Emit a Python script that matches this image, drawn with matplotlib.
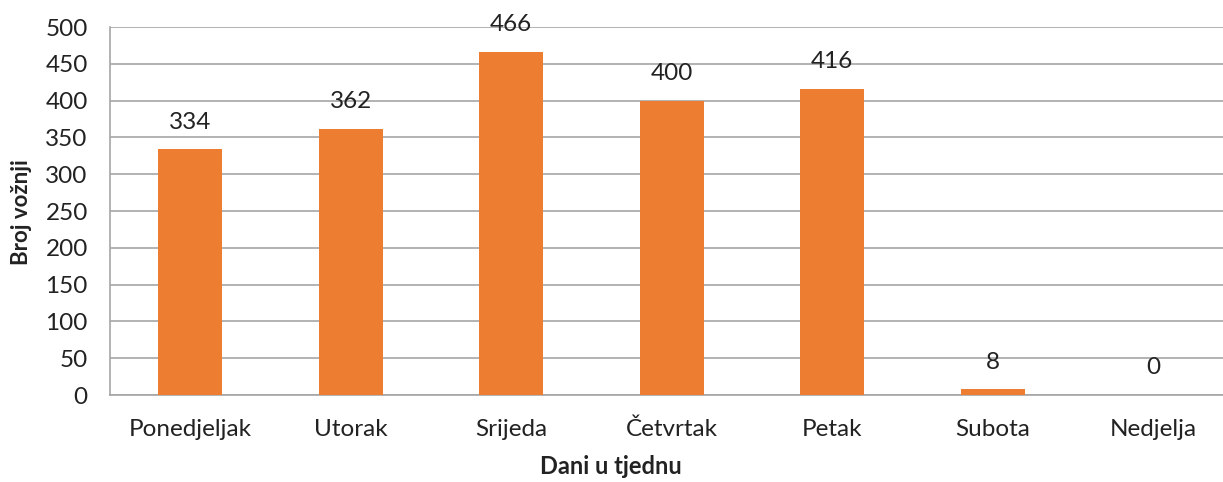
import matplotlib
matplotlib.use("Agg")
import matplotlib.pyplot as plt

days = ["Ponedjeljak", "Utorak", "Srijeda", "Četvrtak", "Petak", "Subota", "Nedjelja"]
rides = [334, 362, 466, 400, 416, 8, 0]
y_ticks = list(range(0, 501, 50))

plt.rcParams["font.family"] = ["Lato", "DejaVu Sans"]

fig = plt.figure(figsize=(12.23, 4.82), dpi=100)
ax = fig.add_axes([110 / 1223, 1 - 395 / 482, 1123.5 / 1223, 368 / 482])

x = range(len(days))
bars = ax.bar(x, rides, width=0.4, color="#ED7D31", zorder=3)
for b, v in zip(bars, rides):
    ax.annotate(str(v), (b.get_x() + b.get_width() / 2, v), xytext=(0, 19.5),
                textcoords="offset points", ha="center", va="center",
                fontsize=17.5, color="#222222")

ax.set_xlim(-0.5, len(days) - 0.5)
ax.set_ylim(0, 500)
ax.set_yticks(y_ticks)
ax.set_xticks(list(x))
ax.set_xticklabels(days)
ax.tick_params(axis="both", length=0, labelsize=17.5, colors="#222222")
ax.tick_params(axis="x", pad=17)
ax.tick_params(axis="y", pad=16)
ax.yaxis.grid(True, color="#A6A6A6", linewidth=1.2, zorder=0)

for s in ["top", "right"]:
    ax.spines[s].set_visible(False)
ax.spines["left"].set_color("#A6A6A6")
ax.spines["bottom"].set_color("#A6A6A6")
ax.spines["left"].set_linewidth(1.2)
ax.spines["bottom"].set_linewidth(1.2)

fig.text(22 / 1223, 1 - 212 / 482, "Broj vožnji", rotation=90, ha="center", va="center",
         fontsize=16, fontweight="bold", color="#222222")
fig.text(611 / 1223, 1 - 467 / 482, "Dani u tjednu", ha="center", va="center",
         fontsize=17, fontweight="bold", color="#222222")

fig.savefig("out.png", dpi=100)
